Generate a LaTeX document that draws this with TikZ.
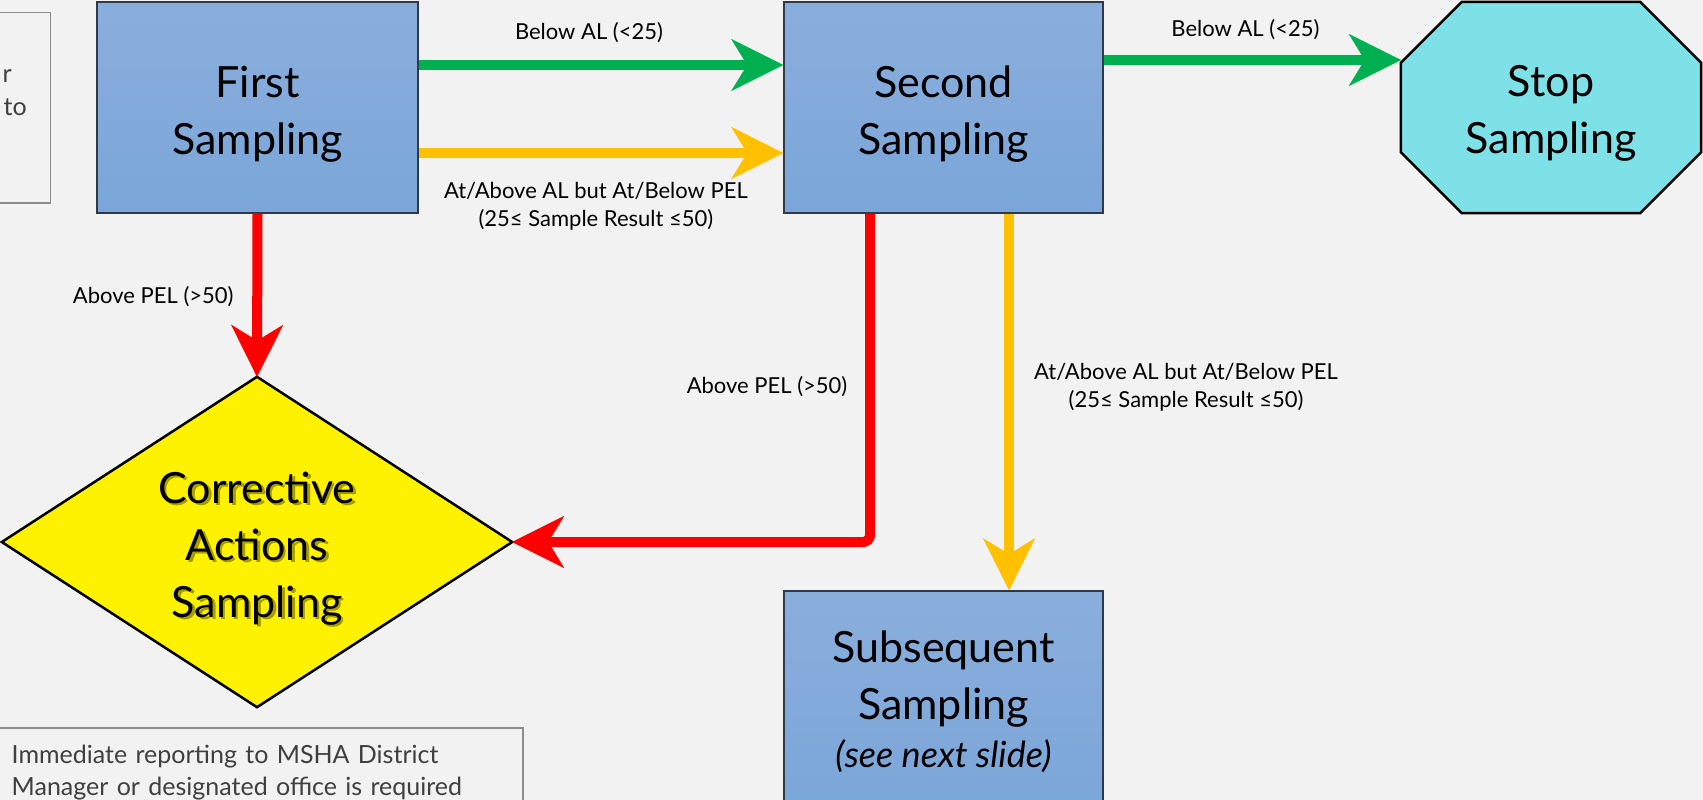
\documentclass[tikz,border=0pt]{standalone}
\usepackage{fontspec}
\setmainfont{Lato}
\usetikzlibrary{arrows.meta,backgrounds}
\definecolor{bg}{HTML}{F2F2F2}
\definecolor{boxtop}{HTML}{8AAEDC}
\definecolor{boxbot}{HTML}{7BA6D9}
\definecolor{boxline}{HTML}{2E3A4A}
\definecolor{ggreen}{HTML}{00B050}
\definecolor{gyellow}{HTML}{FFC000}
\definecolor{gred}{HTML}{FF0000}
\definecolor{cyanfill}{HTML}{7DE1E7}
\definecolor{notegray}{HTML}{3F3F3F}
\definecolor{noteline}{HTML}{8C8C8C}
\begin{document}
\begin{tikzpicture}[x=1pt, y=-1pt,
  bluebox/.style={draw=boxline, line width=1.5pt, top color=boxtop, bottom color=boxbot,
    minimum width=#1, minimum height=211, inner sep=0pt},
  plainshape/.style={inner sep=0pt},
  boxtext/.style={font=\fontsize{43}{57}\selectfont, align=center, text=black, inner sep=0pt},
  lbl/.style={font=\fontsize{22}{28}\selectfont, align=center, text=black, inner sep=0pt},
  note/.style={font=\fontsize{25}{32}\selectfont, text=notegray},
  notebox/.style={draw=noteline, line width=1.5pt, fill=bg},
  arr/.style={line width=10pt, -{Stealth[length=52pt, width=52pt, inset=16pt, line width=0.01pt]}},
  octo/.style={fill=cyanfill, draw=black, line width=2.5pt},
  dia/.style={fill=yellow, draw=black, line width=2.5pt}
]
\useasboundingbox (0,0) rectangle (1703,800);
\begin{scope}[on background layer]
  \fill[bg] (0,0) rectangle (1703,800);
\end{scope}

% side notes
\node[notebox, anchor=north east, minimum width=80, minimum height=190] (topnote) at (51,12) {};
\node[note, anchor=base east, inner sep=0pt] (topnoter) at (12,82) {r};
\node[note, anchor=base east, inner sep=0pt] (topnoteto) at (27,115) {to};
\node[notebox, note, anchor=north west, text width=490, inner xsep=21, inner ysep=17, align=left] (report) at (-10,727)
  {Immediate reporting to MSHA District\\Manager or designated office is required};

% main nodes
\node[bluebox=321, label={[boxtext, yshift=-7]center:{First\\Sampling}}] (first) at (257.5,107.5) {};
\node[bluebox=319, label={[boxtext, yshift=-7]center:{Second\\Sampling}}] (second) at (943.5,107.5) {};
\node[plainshape, minimum width=300, minimum height=211,
  label={[boxtext, yshift=-5.5]center:{Stop\\Sampling}}] (stop) at (1551,107.5) {};
\node[plainshape, minimum width=510, minimum height=330,
  label={[boxtext, text=black, opacity=0.35, xshift=2.5, yshift=-9]center:{Corrective\\Actions\\Sampling}},
  label={[boxtext, yshift=-6.5]center:{Corrective\\Actions\\Sampling}}] (cas) at (257,542) {};
\node[bluebox=319, minimum height=221,
  label={[boxtext]center:{Subsequent\\Sampling\\[-9pt]{\fontsize{36}{44}\selectfont\itshape (see next slide)}}}] (subseq) at (943.5,701.5) {};

\begin{scope}[on background layer]
  \filldraw[octo] ([xshift=61]stop.north west) -- ([xshift=-61]stop.north east)
    -- ([yshift=-61]stop.north east) -- ([yshift=61]stop.south east)
    -- ([xshift=-61]stop.south east) -- ([xshift=61]stop.south west)
    -- ([yshift=61]stop.south west) -- ([yshift=-61]stop.north west) -- cycle;
  \filldraw[dia] (cas.north) -- (cas.east) -- (cas.south) -- (cas.west) -- cycle;
\end{scope}

% connectors
\draw[arr, draw=ggreen] (first.east |- 0,65) -- node[lbl, pos=0.467, yshift=32] (lg1) {Below AL (<25)} (second.west |- 0,65);
\draw[arr, draw=gyellow] (first.east |- 0,153) -- node[lbl, pos=0.486, yshift=-53] (ly1) {At/Above AL but At/Below PEL\\(25≤ Sample Result ≤50)} (second.west |- 0,153);
\draw[arr, draw=ggreen] (second.east |- 0,60) -- node[lbl, pos=0.477, yshift=30] (lg2) {Below AL (<25)} (stop.west |- 0,60);
\draw[arr, draw=gred] (first.south) -- node[lbl, pos=0.51, xshift=-104] (lr1) {Above PEL (>50)} (cas.north);
\draw[arr, draw=gred, rounded corners=7pt] (second.south -| 870,0) |- node[lbl, pos=0.264, xshift=-103] (lr2) {Above PEL (>50)} (cas.east);
\draw[arr, draw=gyellow] (second.south -| 1009,0) -- node[lbl, pos=0.46, xshift=177] (ly2) {At/Above AL but At/Below PEL\\(25≤ Sample Result ≤50)} (subseq.north -| 1009,0);
\end{tikzpicture}
\end{document}
